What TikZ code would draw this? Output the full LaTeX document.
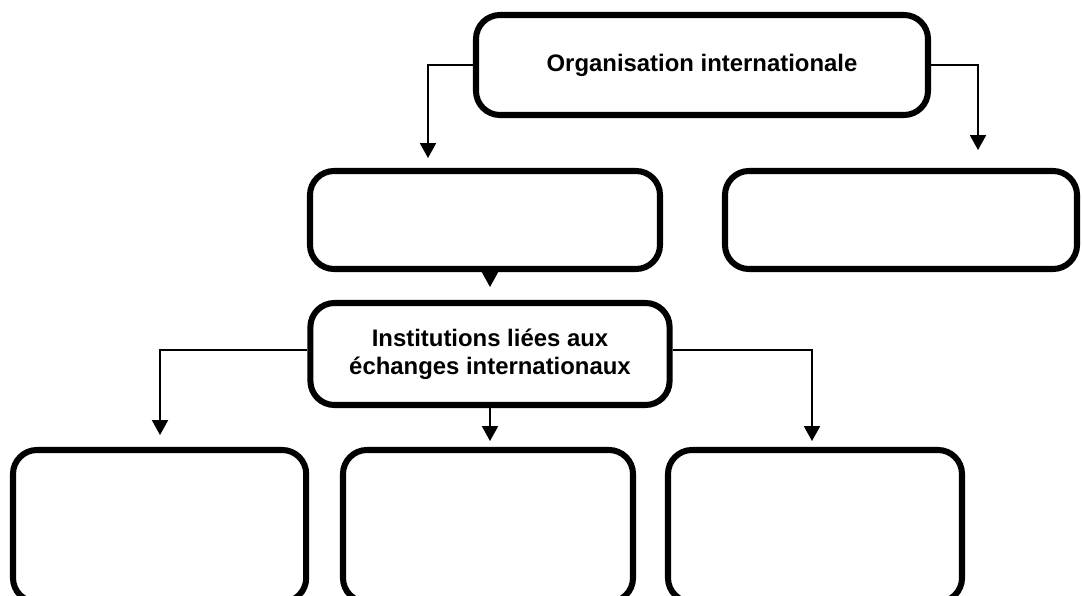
\documentclass[tikz,border=0pt]{standalone}
\usepackage{fontspec}
\setmainfont{Liberation Sans}
\usetikzlibrary{arrows.meta,positioning}

\begin{document}
\begin{tikzpicture}[>={Triangle[width=4mm,length=3.7mm]},
    every node/.style={font=\bfseries\fontsize{17}{20}\selectfont,align=center,inner sep=0pt},
    box/.style={draw,line width=4.3pt,rounded corners=0.6cm,minimum height=2.5cm},
    link/.style={->,line width=1pt}]

    % page frame with the reference margins
    \useasboundingbox (0,0) rectangle (27.05,-14.9);

    % top level
    \node[box,minimum width=11.3cm] (org) at (17.55,-1.625) {Organisation internationale};

    % second level
    \node[box,minimum width=8.75cm,minimum height=2.45cm] (ml) at (12.125,-5.5) {};
    \node[box,minimum width=8.8cm,minimum height=2.45cm] (mr) at (22.525,-5.5) {};

    % third level
    \node[box,minimum width=8.98cm,minimum height=2.55cm] (inst) at (12.25,-8.85)
        {Institutions liées aux\\échanges internationaux};

    % bottom level, cut by the page edge
    \node[box,minimum width=7.33cm,minimum height=3.8cm] (b1) at (3.99,-13.15) {};
    \node[box,minimum width=7.25cm,minimum height=3.8cm] (b2) at (12.2,-13.15) {};
    \node[box,minimum width=7.35cm,minimum height=3.8cm] (b3) at (20.375,-13.15) {};

    % arrow tips
    \coordinate (tipA) at (10.7,-3.95);
    \coordinate (tipB) at (24.45,-3.75);
    \coordinate (tipC) at (12.25,-7.175);
    \coordinate (tipD) at (4,-10.875);
    \coordinate (tipE) at (12.25,-11.025);
    \coordinate (tipF) at (20.3,-11.025);

    \draw[link] (org.west) -| (tipA);
    \draw[link] (org.east) -| (tipB);
    \draw[link] (ml.south -| inst) -- (tipC);
    \draw[link] ([yshift=1mm]inst.west) -| (tipD);
    \draw[link] (inst.south) -- (tipE);
    \draw[link] ([yshift=1mm]inst.east) -| (tipF);
\end{tikzpicture}
\end{document}
